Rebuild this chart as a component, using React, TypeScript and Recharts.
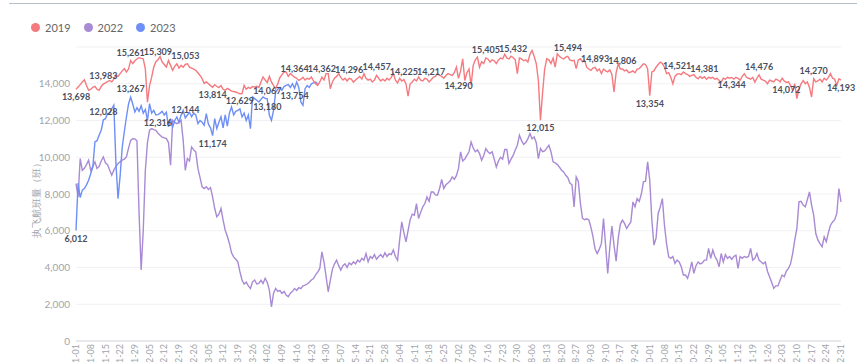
import React from "react";
import { LineChart, Line, XAxis, YAxis, CartesianGrid, LabelList } from "recharts";

// month lengths of a non-leap year, used to build the MM-DD categories
const monthDays = [31, 28, 31, 30, 31, 30, 31, 31, 30, 31, 30, 31];

const dates: string[] = [];
monthDays.forEach((n, m) => {
  for (let d = 1; d <= n; d++) {
    dates.push(String(m + 1).padStart(2, "0") + "-" + String(d).padStart(2, "0"));
  }
});

const flights2019 = [
  13698, 13820, 13950, 14100, 14220, 13900, 13640, 13700, 13800, 13860,
  13700, 13640, 13850, 13983, 14050, 14120, 14180, 14100, 14250, 14460,
  14400, 14550, 14700, 14820, 14640, 14800, 15261, 15100, 15250, 15350,
  15420, 15380, 15360, 14800, 13000, 13900, 14360, 14910, 15200, 15309,
  15480, 15180, 15050, 14910, 15270, 15000, 14730, 14950, 15090, 14850,
  15000, 14900, 15053, 15090, 14900, 14850, 14800, 14730, 14600, 14450,
  14280, 14020, 14100, 14000, 13900, 13814, 13950, 13850, 13790, 13900,
  13700, 13640, 13750, 13680, 13600, 13580, 13550, 13500, 13460, 13470,
  13910, 13700, 13800, 13750, 13850, 13820, 13860, 13800, 14100, 14370,
  14200, 14067, 14400, 14100, 13900, 13730, 14000, 14330, 14500, 14640,
  14640, 14400, 14550, 14450, 14364, 14300, 14180, 14250, 14350, 14200,
  14300, 14250, 14370, 14150, 14000, 13910, 14100, 14362, 14200, 14550,
  14550, 13730, 14100, 14300, 14400, 14550, 14350, 14200, 14300, 14150,
  14296, 14250, 14090, 14200, 14300, 14400, 14250, 14550, 14300, 14200,
  14250, 14100, 14200, 14457, 14300, 14150, 14250, 14150, 14300, 14200,
  14350, 14550, 14200, 14050, 14300, 14150, 14225, 14000, 13320, 14000,
  14100, 14250, 14150, 14370, 14200, 14150, 14300, 14250, 14100, 14217,
  14350, 14400, 14550, 14450, 14400, 14300, 14450, 14550, 14500, 14450,
  14600, 14910, 14290, 14700, 15360, 14180, 14600, 14800, 13910, 15000,
  15300, 15450, 14900, 15200, 15100, 15405, 15350, 15180, 15300, 15250,
  15100, 15300, 15400, 15350, 15600, 15400, 15350, 15500, 15432, 15300,
  14550, 15400, 15350, 15250, 15300, 15180, 15600, 15815, 15500, 15100,
  14180, 12015, 13500, 14800, 15360, 15300, 15100, 15400, 14910, 15630,
  15500, 15400, 15350, 15450, 15494, 15300, 15250, 15270, 14820, 15300,
  15360, 15200, 15270, 14900, 14800, 14730, 14850, 14893, 14700, 14800,
  14550, 14800, 14700, 14650, 14750, 14500, 13550, 14600, 15090, 14800,
  14806, 14700, 14750, 14600, 14640, 14700, 14600, 14800, 14820, 14950,
  15090, 15050, 14800, 13354, 14640, 14700, 14900, 15050, 15180, 15100,
  14900, 14550, 14600, 14350, 14000, 14400, 14521, 14550, 14500, 14640,
  14550, 14500, 14400, 14460, 14500, 14350, 14270, 14400, 14300, 14381,
  14250, 14350, 14300, 14350, 14250, 14300, 14180, 14090, 14300, 14250,
  14350, 14300, 14344, 14250, 14350, 14300, 14200, 14400, 14550, 14350,
  14300, 14250, 14350, 14090, 14300, 14476, 14250, 14200, 14150, 14000,
  14200, 14150, 14100, 14250, 14200, 14100, 14300, 14150, 14072, 14100,
  13900, 13640, 14000, 13190, 13700, 14000, 14180, 14000, 14100, 13800,
  13280, 14270, 14100, 14150, 14250, 14100, 14300, 14200, 14350, 14550,
  14300, 14250, 13910, 14270, 14193,
];

const flights2022 = [
  8570, 7840, 9930, 9290, 9400, 9600, 9840, 9290, 9500, 9750,
  9390, 9500, 9800, 10020, 9700, 9600, 9300, 9020, 9300, 9500,
  9660, 9750, 9840, 9900, 10020, 10500, 10920, 11010, 11000, 10900,
  7000, 3860, 6030, 9290, 10800, 11470, 11560, 11500, 11470, 11300,
  11200, 11100, 11050, 11010, 10800, 9570, 12010, 11900, 11830, 11900,
  12010, 10920, 9290, 9930, 9800, 10560, 10400, 10290, 9390, 8900,
  8390, 8300, 8400, 8250, 8350, 7840, 7210, 6760, 6900, 7210,
  6580, 6030, 5700, 5310, 4800, 4580, 4450, 4310, 3770, 3320,
  3100, 3200, 3000, 2860, 3220, 3320, 3100, 3130, 3300, 3130,
  3410, 3200, 2770, 1860, 2600, 2860, 2700, 2750, 2590, 2700,
  2500, 2410, 2600, 2700, 2860, 2750, 2900, 2850, 3000, 3040,
  3100, 3200, 3320, 3400, 3600, 3750, 3950, 4850, 4300, 3500,
  2680, 3300, 3900, 4200, 4400, 4100, 3860, 4100, 4200, 4000,
  4250, 4150, 4310, 4200, 4400, 4300, 4500, 4400, 4760, 4310,
  4600, 4500, 4700, 4450, 4600, 4700, 4550, 4800, 4600, 4750,
  4700, 4950, 4600, 4400, 5500, 6480, 5900, 5400, 6000, 6600,
  6900, 6850, 7480, 6670, 7000, 7300, 7480, 7840, 7600, 8110,
  8110, 7950, 7930, 8300, 8790, 8300, 8500, 8600, 8700, 8930,
  8800, 9000, 9390, 10290, 9800, 9900, 10100, 10300, 10830, 10500,
  10300, 10400, 10200, 9840, 10100, 10470, 10300, 10200, 10300, 9900,
  9470, 9800, 10000, 9900, 10420, 10420, 9660, 9900, 10100, 10400,
  10650, 11200, 10900, 10700, 10800, 11000, 11290, 11000, 11100, 10800,
  9930, 10470, 10300, 10350, 10500, 10650, 10300, 9750, 9700, 9600,
  9470, 9300, 9200, 9020, 8900, 8600, 8500, 7300, 8930, 8700,
  7500, 6670, 6600, 6650, 6600, 6200, 5670, 5000, 4760, 5000,
  5310, 6670, 5200, 3680, 5100, 6250, 5200, 4350, 5600, 6350,
  6580, 6400, 6120, 6300, 6480, 7570, 7300, 7750, 7600, 8000,
  8660, 8700, 9750, 8750, 6580, 5220, 5600, 6940, 7300, 7750,
  6300, 5300, 4580, 4500, 4600, 4220, 4400, 4300, 4040, 3590,
  3590, 3410, 3800, 4310, 3680, 4100, 4300, 4200, 4250, 4400,
  4400, 5040, 4500, 4950, 4600, 4400, 4040, 4760, 4300, 4700,
  4500, 4600, 4450, 4600, 4670, 3950, 4600, 4500, 4600, 4550,
  4600, 5040, 4400, 4500, 4760, 4400, 4300, 4200, 4300, 3800,
  3500, 3200, 2860, 3000, 3000, 3300, 3590, 3500, 3800, 3950,
  4200, 4760, 5500, 6120, 7570, 7600, 7400, 7300, 7700, 8110,
  7400, 6850, 5850, 5500, 5300, 5130, 5670, 5400, 5900, 6300,
  6480, 6600, 6940, 8300, 7570,
];

const flights2023 = [
  6012, 8600, 7800, 8210, 8300, 8500, 8750, 9100, 9470, 10830,
  10900, 11200, 11470, 12028, 12100, 12370, 12400, 12640, 12830, 9660,
  7750, 9000, 10560, 11400, 12190, 12900, 13267, 12900, 12460, 12700,
  12500, 12800, 12400, 12600, 12010, 12920, 12400, 12550, 12300, 12316,
  12400, 12500, 12300, 12450, 11650, 12100, 11650, 12000, 12190, 11900,
  12300, 12550, 12144, 12300, 12450, 12200, 12400, 12300, 11830, 12000,
  11900, 11740, 12370, 11800, 11600, 11174, 12100, 11560, 11900, 12200,
  11600, 12300, 11700, 12400, 12740, 12300, 12500, 12550, 12629, 12200,
  12400, 12000, 12300, 11560, 13280, 13190, 13100, 13010, 13150, 13280,
  13200, 13180, 12280, 12010, 12550, 13550, 13700, 13800, 13650, 13850,
  13910, 13950, 13800, 14000, 13754, 14090, 13800, 13010, 12830, 13730,
  13900, 13800, 14000, 14050, 14090, 14000,
];

// which points carry a value label, and whether it sits above or below
const labels2019: Record<number, "up" | "down"> = {
  0: "down", 13: "up", 26: "up", 39: "up", 52: "up", 65: "down", 91: "down",
  104: "up", 117: "up", 130: "up", 143: "up", 156: "up", 169: "up", 182: "down",
  195: "up", 208: "up", 221: "down", 234: "up", 247: "up", 260: "up", 273: "down",
  286: "up", 299: "up", 312: "down", 325: "up", 338: "down", 351: "up", 364: "down",
};
const labels2023: Record<number, "up" | "down"> = {
  0: "down", 13: "up", 26: "up", 39: "down", 52: "up", 65: "down", 78: "up",
  91: "down", 104: "down",
};

const yTicks = [0, 2000, 4000, 6000, 8000, 10000, 12000, 14000];

const data = dates.map((date, i) => ({
  date,
  y2019: flights2019[i],
  y2022: flights2022[i],
  y2023: flights2023[i],
}));

const C2019 = "#f47a7f";
const C2022 = "#a98ad4";
const C2023 = "#6d8ff7";
const FONT = "Lato, 'Noto Sans', sans-serif";

const fmt = (v: number) => v.toLocaleString("en-US");

const makeLabel = (which: Record<number, "up" | "down">) => (props: any) => {
  const { x, y, value, index } = props;
  const pos = which[index];
  if (!pos || value == null) return null;
  return (
    <text
      x={x}
      y={pos === "up" ? y - 5 : y + 11}
      textAnchor="middle"
      fontSize={9}
      fontWeight={700}
      fontFamily={FONT}
      fill="#4a4f5f"
    >
      {fmt(value)}
    </text>
  );
};

const DateTick = (props: any) => {
  const { x, y, payload } = props;
  return (
    <text
      x={x}
      y={y}
      transform={`rotate(-90 ${x} ${y})`}
      textAnchor="end"
      dy="0.35em"
      fontSize={9}
      fontFamily={FONT}
      fill="#a0a4ab"
    >
      {payload.value}
    </text>
  );
};

const legend = [
  { name: "2019", color: C2019 },
  { name: "2022", color: C2022 },
  { name: "2023", color: C2023 },
];

export default function App() {
  return (
    <div style={{ position: "absolute", left: 0, top: 0, width: 857, height: 362, overflow: "hidden", background: "#fff" }}>
      <div style={{ position: "absolute", left: 9, right: 0, top: 3, height: 1, background: "#b4c0cc" }} />
      <div style={{ position: "absolute", left: 31, top: 21, display: "flex", alignItems: "center", fontFamily: FONT, fontSize: 11, color: "#666" }}>
        {legend.map((l) => (
          <div key={l.name} style={{ display: "flex", alignItems: "center", marginRight: 13 }}>
            <span style={{ width: 9, height: 9, borderRadius: "50%", background: l.color, marginRight: 5 }} />
            <span>{l.name}</span>
          </div>
        ))}
      </div>
      <LineChart width={857} height={401} data={data} margin={{ top: 47, right: 16, left: 0, bottom: 0 }}>
        <CartesianGrid vertical={false} stroke="#f1f1f3" />
        <XAxis
          dataKey="date"
          interval={6}
          tick={<DateTick />}
          tickLine={false}
          tickSize={0}
          tickMargin={3}
          height={60}
          axisLine={{ stroke: "#d6d9de" }}
        />
        <YAxis
          domain={[0, 16000]}
          ticks={yTicks}
          width={76}
          axisLine={false}
          tickLine={false}
          tickSize={4}
          tickMargin={2}
          tickFormatter={fmt}
          tick={{ fontSize: 10, fill: "#a0a4ab", fontFamily: FONT }}
          label={{
            content: () => (
              <text
                x={40}
                y={198}
                transform="rotate(-90 40 198)"
                textAnchor="middle"
                fontSize={10}
                fontFamily={FONT}
                fill="#a0a4ab"
              >
                执飞航班量（班）
              </text>
            ),
          }}
        />
        <Line dataKey="y2022" stroke={C2022} strokeWidth={1.4} dot={false} isAnimationActive={false} />
        <Line dataKey="y2023" stroke={C2023} strokeWidth={1.4} dot={false} isAnimationActive={false}>
          <LabelList dataKey="y2023" content={makeLabel(labels2023)} />
        </Line>
        <Line dataKey="y2019" stroke={C2019} strokeWidth={1.4} dot={false} isAnimationActive={false}>
          <LabelList dataKey="y2019" content={makeLabel(labels2019)} />
        </Line>
      </LineChart>
    </div>
  );
}
